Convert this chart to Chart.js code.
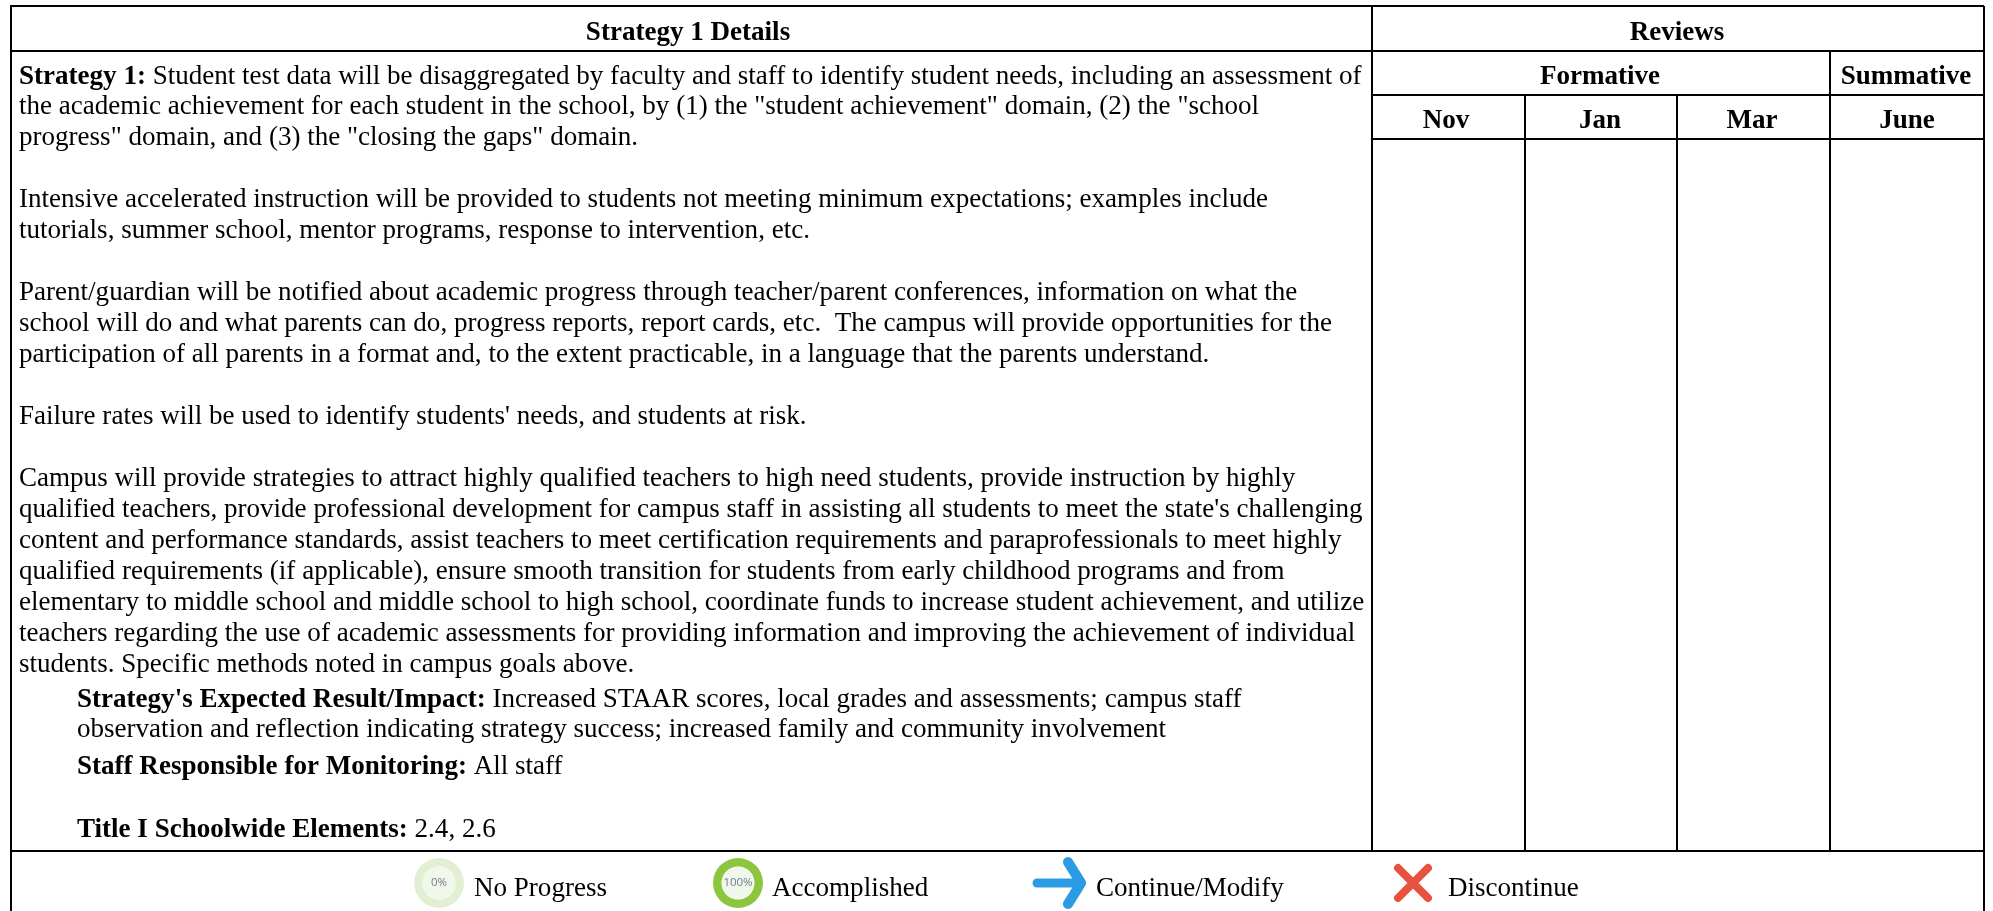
<!DOCTYPE html>
<html><head><meta charset="utf-8">
<style>html,body{margin:0;padding:0;background:#fff;overflow:hidden}
#wrap{position:relative;width:1993px;height:911px}
#main{position:absolute;left:0;top:0}
.ic{position:absolute;width:50px;height:50px}
</style>
<script src="https://cdn.jsdelivr.net/npm/chart.js@4"></script></head>
<body><div id="wrap"><canvas id="main" width="1993" height="911"></canvas>
<div class="ic" style="left:414px;top:858px"><canvas id="d0" width="50" height="50"></canvas></div>
<div class="ic" style="left:713px;top:858px"><canvas id="d1" width="50" height="50"></canvas></div></div>
<script>
const reviewHeader=["Strategy 1 Details","Reviews"];
const reviewGroups=["Formative","Summative"];
const months=["Nov","Jan","Mar","June"];
const legendLabels=["No Progress","Accomplished","Continue/Modify","Discontinue"];
const progressValues=[0,100];
const bodyLines=[
[["Strategy 1: ",1],["Student test data will be disaggregated by faculty and staff to identify student needs, including an assessment of",0]],
[["the academic achievement for each student in the school, by (1) the \"student achievement\" domain, (2) the \"school",0]],
[["progress\" domain, and (3) the \"closing the gaps\" domain.",0]],
[],
[["Intensive accelerated instruction will be provided to students not meeting minimum expectations; examples include",0]],
[["tutorials, summer school, mentor programs, response to intervention, etc.",0]],
[],
[["Parent/guardian will be notified about academic progress through teacher/parent conferences, information on what the",0]],
[["school will do and what parents can do, progress reports, report cards, etc.  The campus will provide opportunities for the",0]],
[["participation of all parents in a format and, to the extent practicable, in a language that the parents understand.",0]],
[],
[["Failure rates will be used to identify students' needs, and students at risk.",0]],
[],
[["Campus will provide strategies to attract highly qualified teachers to high need students, provide instruction by highly",0]],
[["qualified teachers, provide professional development for campus staff in assisting all students to meet the state's challenging",0]],
[["content and performance standards, assist teachers to meet certification requirements and paraprofessionals to meet highly",0]],
[["qualified requirements (if applicable), ensure smooth transition for students from early childhood programs and from",0]],
[["elementary to middle school and middle school to high school, coordinate funds to increase student achievement, and utilize",0]],
[["teachers regarding the use of academic assessments for providing information and improving the achievement of individual",0]],
[["students. Specific methods noted in campus goals above.",0]]
];
const detailLines=[
[["Strategy's Expected Result/Impact: ",1],["Increased STAAR scores, local grades and assessments; campus staff",0]],
[["observation and reflection indicating strategy success; increased family and community involvement",0]],
[["Staff Responsible for Monitoring: ",1],["All staff",0]],
[],
[["Title I Schoolwide Elements: ",1],["2.4, 2.6",0]]
];
const FS=27.05, FAM='"Liberation Serif"';
function drawRuns(ctx,runs,x,y){
  for(const [t,b] of runs){ctx.font=(b?'bold ':'')+FS+'px '+FAM;ctx.fillText(t,x,y);x+=ctx.measureText(t).width;}
}
const arrowIcon=document.createElement('canvas');arrowIcon.width=56;arrowIcon.height=54;
(function(){const c=arrowIcon.getContext('2d');c.strokeStyle='#2b9be6';c.lineCap='round';c.lineJoin='round';c.lineWidth=9;
c.beginPath();c.moveTo(6,27);c.lineTo(48,27);c.stroke();c.lineWidth=10;c.beginPath();c.moveTo(37,6);c.lineTo(50,27);c.lineTo(37,48);c.stroke();})();
const crossIcon=document.createElement('canvas');crossIcon.width=44;crossIcon.height=44;
(function(){const c=crossIcon.getContext('2d');c.strokeStyle='#e8503f';c.lineCap='round';c.lineWidth=8;
c.beginPath();c.moveTo(7,7);c.lineTo(37,37);c.moveTo(37,7);c.lineTo(7,37);c.stroke();})();
const tablePlugin={id:'table',afterDatasetsDraw(chart){
  const c=chart.ctx,X=v=>chart.scales.x.getPixelForValue(v),Y=v=>chart.scales.y.getPixelForValue(v);
  c.save();c.strokeStyle='#000';c.lineWidth=2;
  const L=(a,b,d,e)=>{c.beginPath();c.moveTo(X(a),Y(b));c.lineTo(X(d),Y(e));c.stroke();};
  L(10,6,1984,6);L(11,6,11,911);L(1984,6,1984,911);L(11,851,1984,851);
  L(11,51,1984,51);L(1372,95,1984,95);L(1372,139,1984,139);
  L(1372,6,1372,851);L(1830,51,1830,851);L(1525,95,1525,851);L(1677,95,1677,851);
  c.fillStyle='#000';c.textBaseline='alphabetic';
  c.textAlign='center';c.font='bold '+FS+'px '+FAM;
  c.fillText(reviewHeader[0],X(688),Y(40));c.fillText(reviewHeader[1],X(1677),Y(40));
  c.fillText(reviewGroups[0],X(1600),Y(84));c.fillText(reviewGroups[1],X(1906),Y(84));
  [1446,1600,1752,1907].forEach((p,i)=>c.fillText(months[i],X(p),Y(128)));
  c.textAlign='left';
  bodyLines.forEach((r,i)=>drawRuns(c,r,X(19),Y(83.5+i*30.95)));
  const dy=[707,737,774,0,837];
  detailLines.forEach((r,i)=>{if(r.length)drawRuns(c,r,X(77),Y(dy[i]));});
  c.font=FS+'px '+FAM;
  [474,772,1096,1448].forEach((p,i)=>c.fillText(legendLabels[i],X(p),Y(896)));
  c.restore();
}};
new Chart(document.getElementById('main'),{type:'scatter',plugins:[tablePlugin],
 data:{datasets:[
  {data:[{x:1059,y:883}],pointStyle:arrowIcon,pointRadius:27,showLine:false},
  {data:[{x:1413,y:883}],pointStyle:crossIcon,pointRadius:22,showLine:false}
 ]},
 options:{responsive:false,animation:false,layout:{padding:0,autoPadding:false},clip:false,plugins:{legend:{display:false},tooltip:{enabled:false}},
  scales:{x:{type:'linear',min:0,max:1993,display:false},y:{type:'linear',min:0,max:911,reverse:true,display:false}}}});
const centerPlugin={id:'center',afterDraw(ch){const c=ch.ctx;c.save();c.fillStyle=ch.options.plugins.center.bg;c.beginPath();c.arc(ch.width/2,ch.height/2,ch.width*0.325,0,7);c.fill();
 c.fillStyle='#6f7f8c';c.font='11.5px "Open Sans"';c.textAlign='center';c.textBaseline='middle';c.fillText(ch.options.plugins.center.text,ch.width/2,ch.height/2);c.restore();}};
progressValues.forEach((v,i)=>new Chart(document.getElementById('d'+i),{type:'doughnut',plugins:[centerPlugin],
 data:{datasets:[{data:[v,100-v],backgroundColor:['#8cc63f','#e3efd3'],borderWidth:0}]},
 options:{responsive:false,animation:false,cutout:'66%',layout:{padding:0,autoPadding:false},plugins:{legend:{display:false},tooltip:{enabled:false},center:{text:v+'%',bg:'#f1f7ea'}}}}));
</script></body></html>
